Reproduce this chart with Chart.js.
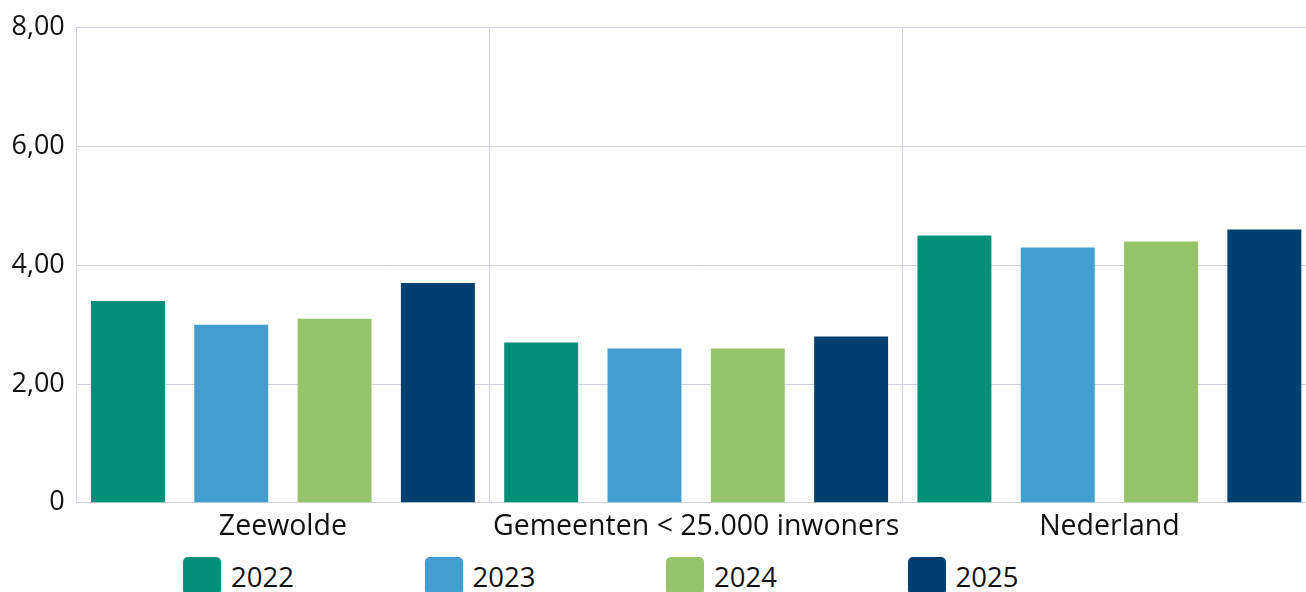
<!DOCTYPE html>
<html lang="nl">
<head>
<meta charset="utf-8">
<script src="https://cdn.jsdelivr.net/npm/chart.js@4/dist/chart.umd.min.js"></script>
<style>
  html, body { margin: 0; padding: 0; background: #fff; }
  body { width: 1306px; height: 592px; overflow: hidden; position: relative; font-family: "Open Sans", sans-serif; }
  .wrap { position: absolute; left: 0; top: 0; width: 1316px; height: 551px; }
  .legend { position: absolute; left: 183px; top: 557px; display: flex; }
  .legend .item { width: 241.5px; display: flex; align-items: center; font-size: 27.5px; color: #111; }
  .legend .box { width: 38px; height: 38px; border-radius: 5px; margin-right: 10px; flex: none; }
</style>
</head>
<body>
<div class="wrap"><canvas id="chart"></canvas></div>
<div class="legend" id="legend"></div>
<script>
  // data
  const categories = ["Zeewolde", "Gemeenten < 25.000 inwoners", "Nederland"];
  const years = ["2022", "2023", "2024", "2025"];
  const values2022 = [3.4, 2.7, 4.5];
  const values2023 = [3.0, 2.6, 4.3];
  const values2024 = [3.1, 2.6, 4.4];
  const values2025 = [3.7, 2.8, 4.6];
  const yTicks = [0, 2, 4, 6, 8];

  const colors = ["#00907a", "#439dd0", "#95c367", "#004070"];
  const gridColor = "#cdd3de";
  const yFont = { family: "'Open Sans', sans-serif", size: 27 };
  const xFont = { family: "'Open Sans', sans-serif", size: 28.5 };

  function fmtTick(v) {
    if (v === 0) return "0";
    return v.toFixed(2).replace(".", ",");
  }

  const series = [values2022, values2023, values2024, values2025];

  new Chart(document.getElementById("chart"), {
    type: "bar",
    data: {
      labels: categories,
      datasets: series.map((vals, i) => ({
        label: years[i],
        data: vals,
        backgroundColor: colors[i],
        borderWidth: 0,
        barPercentage: 0.716,
        categoryPercentage: 1.0,
      })),
    },
    options: {
      responsive: true,
      maintainAspectRatio: false,
      animation: false,
      layout: { padding: { top: 10, left: 0, right: 0, bottom: 0 } },
      plugins: { legend: { display: false }, tooltip: { enabled: false } },
      scales: {
        x: {
          grid: { color: gridColor, drawTicks: false, offset: true },
          border: { color: gridColor },
          ticks: { color: "#111", font: xFont, padding: 7 },
        },
        y: {
          min: 0,
          max: 8,
          afterBuildTicks: (axis) => { axis.ticks = yTicks.map((v) => ({ value: v })); },
          grid: { color: gridColor, drawTicks: false },
          border: { color: gridColor },
          ticks: { color: "#111", font: yFont, padding: 11.5, callback: (v) => fmtTick(Number(v)) },
        },
      },
    },
  });

  const legend = document.getElementById("legend");
  years.forEach((y, i) => {
    legend.insertAdjacentHTML(
      "beforeend",
      `<div class="item"><span class="box" style="background:${colors[i]}"></span>${y}</div>`
    );
  });
</script>
</body>
</html>
